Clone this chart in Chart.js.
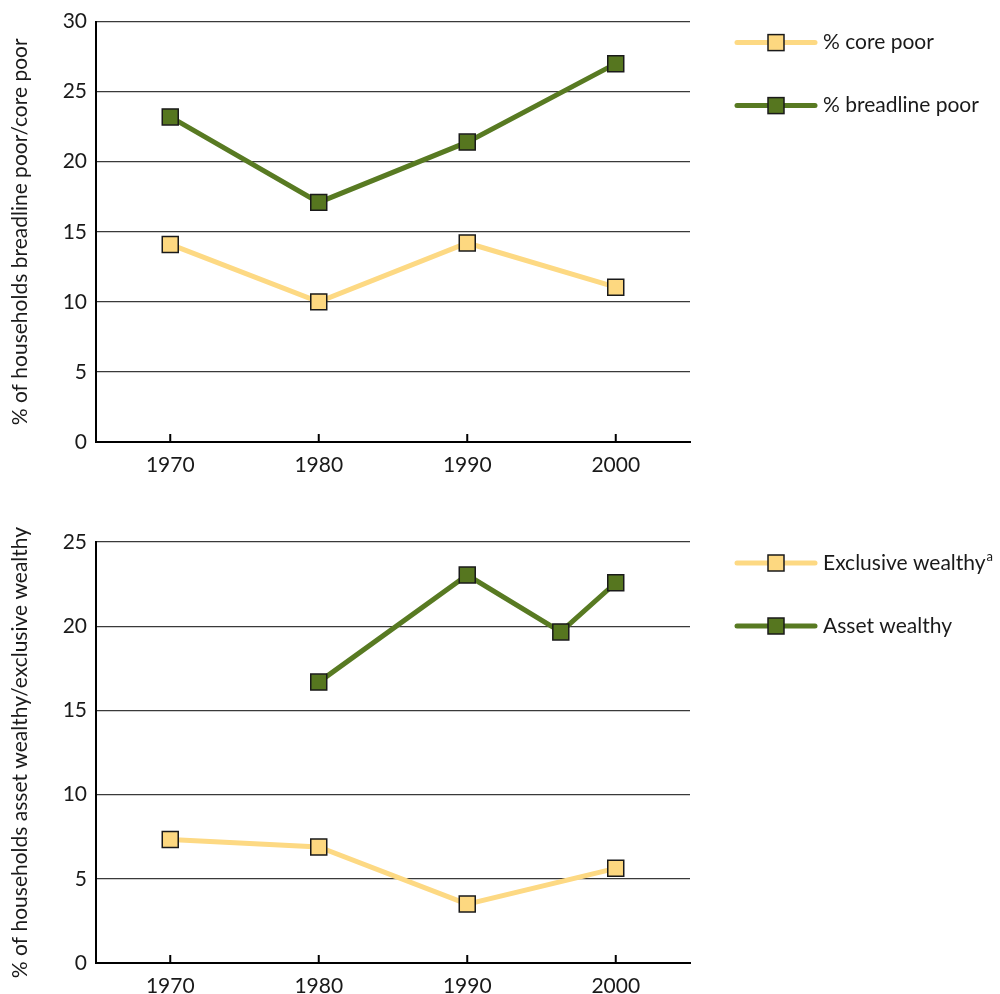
<!DOCTYPE html>
<html>
<head>
<meta charset="utf-8">
<script src="https://cdn.jsdelivr.net/npm/chart.js@4.4.1/dist/chart.umd.min.js"></script>
<style>
  html, body { margin: 0; padding: 0; background: #fff; }
  .box { position: absolute; left: 0; width: 1000px; height: 497px; }
  #b1 { top: 0; }
  #b2 { top: 497px; }
</style>
</head>
<body>
<div class="box" id="b1"><canvas id="c1"></canvas></div>
<div class="box" id="b2"><canvas id="c2"></canvas></div>
<script>
// ---- data ----
const xTicks = [1970, 1980, 1990, 2000];
const povertyYears = [1970, 1980, 1990, 2000];
const corePoor = [14.1, 10.0, 14.2, 11.05];
const breadlinePoor = [23.2, 17.1, 21.4, 27.0];
const exclusiveYears = [1970, 1980, 1990, 2000];
const exclusiveWealthy = [7.33, 6.89, 3.5, 5.62];
const assetYears = [1980, 1990, 1996.3, 2000];
const assetWealthy = [16.68, 23.04, 19.66, 22.58];
const povertyLabels = ['% core poor', '% breadline poor'];
const wealthLabels = ['Exclusive wealthy', 'Asset wealthy'];
const yTitleTop = '% of households breadline poor/core poor';
const yTitleBottom = '% of households asset wealthy/exclusive wealthy';

const FONT = "Lato, 'Noto Sans', sans-serif";
const YELLOW_LINE = '#FDD983', YELLOW_FILL = '#FDD880';
const GREEN_LINE = '#587A22', GREEN_FILL = '#56761F';
const MARK_BORDER = '#1a1a1a';

function pts(xs, ys) { return xs.map((x, i) => ({ x: x, y: ys[i] })); }

function ds(label, xs, ys, line, fill, sup) {
  return {
    label: label, sup: sup || '',
    data: pts(xs, ys),
    borderColor: line, backgroundColor: fill,
    borderWidth: 5,
    pointStyle: 'rect', pointRadius: 11.3, pointHoverRadius: 11.3,
    pointBackgroundColor: fill, pointBorderColor: MARK_BORDER, pointBorderWidth: 1.5,
    tension: 0, clip: false
  };
}

const tickMarks = {
  id: 'tickMarks',
  afterDraw(chart) {
    const ctx = chart.ctx, xs = chart.scales.x, a = chart.chartArea;
    ctx.save();
    ctx.strokeStyle = '#000'; ctx.lineWidth = 2;
    xTicks.forEach(v => {
      const px = xs.getPixelForValue(v);
      ctx.beginPath(); ctx.moveTo(px, a.bottom); ctx.lineTo(px, a.bottom - 8); ctx.stroke();
    });
    ctx.restore();
  }
};

const sideLegend = {
  id: 'sideLegend',
  afterDraw(chart) {
    const ctx = chart.ctx, a = chart.chartArea;
    ctx.save();
    chart.data.datasets.forEach((d, i) => {
      const y = a.top + 21 + i * 63;
      const x0 = a.right + 47, x1 = a.right + 125, xm = a.right + 86;
      ctx.strokeStyle = d.borderColor; ctx.lineWidth = 5; ctx.lineCap = 'round';
      ctx.beginPath(); ctx.moveTo(x0, y); ctx.lineTo(x1, y); ctx.stroke();
      ctx.fillStyle = d.pointBackgroundColor;
      ctx.fillRect(xm - 8, y - 8, 16, 16);
      ctx.strokeStyle = MARK_BORDER; ctx.lineWidth = 1.5;
      ctx.strokeRect(xm - 8, y - 8, 16, 16);
      ctx.fillStyle = '#1a1a1a';
      ctx.font = '21px ' + FONT;
      ctx.textBaseline = 'middle'; ctx.textAlign = 'left';
      const tx = a.right + 133;
      ctx.fillText(d.label, tx, y);
      if (d.sup) {
        const w = ctx.measureText(d.label).width;
        ctx.font = '13px ' + FONT;
        ctx.fillText(d.sup, tx + w + 1, y - 6);
      }
    });
    ctx.restore();
  }
};

function makeChart(id, datasets, yMax, yTitle, padTop, xHeight) {
  return new Chart(document.getElementById(id), {
    type: 'line',
    data: { datasets: datasets },
    options: {
      responsive: true, maintainAspectRatio: false, animation: false,
      layout: { padding: { top: padTop, right: 310, bottom: 0, left: 0 } },
      plugins: { legend: { display: false }, tooltip: { enabled: false } },
      scales: {
        x: {
          type: 'linear', min: 1965, max: 2005,
          afterBuildTicks(s) { s.ticks = xTicks.map(v => ({ value: v })); },
          afterFit(s) { s.height = xHeight; },
          grid: { display: false, drawTicks: false },
          border: { display: true, color: '#000', width: 2 },
          ticks: { color: '#1a1a1a', padding: 11, font: { family: FONT, size: 21 }, callback: v => String(v), maxRotation: 0 }
        },
        y: {
          min: 0, max: yMax,
          afterFit(s) { s.width = 96; },
          ticks: { stepSize: 5, color: '#1a1a1a', padding: 9, font: { family: FONT, size: 21 } },
          grid: { color: '#3a3a3a', lineWidth: 1.2, drawTicks: false },
          border: { display: true, color: '#000', width: 2 },
          title: { display: true, text: yTitle, color: '#1a1a1a', font: { family: FONT, size: 21 }, padding: { top: 8, bottom: 0 } }
        }
      }
    },
    plugins: [tickMarks, sideLegend]
  });
}

makeChart('c1', [
  ds(povertyLabels[0], povertyYears, corePoor, YELLOW_LINE, YELLOW_FILL),
  ds(povertyLabels[1], povertyYears, breadlinePoor, GREEN_LINE, GREEN_FILL)
], 30, yTitleTop, 21, 55);

makeChart('c2', [
  ds(wealthLabels[0], exclusiveYears, exclusiveWealthy, YELLOW_LINE, YELLOW_FILL, 'a'),
  ds(wealthLabels[1], assetYears, assetWealthy, GREEN_LINE, GREEN_FILL)
], 25, yTitleBottom, 45, 31);
</script>
</body>
</html>
